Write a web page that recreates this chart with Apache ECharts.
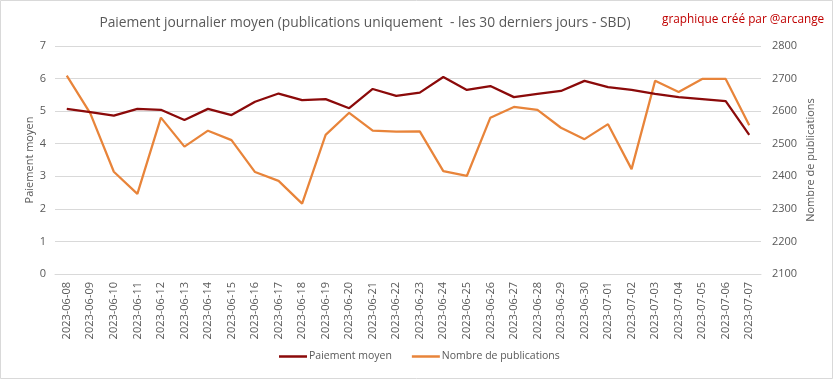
<!DOCTYPE html>
<html>
<head>
<meta charset="utf-8">
<script src="https://cdn.jsdelivr.net/npm/echarts@6/dist/echarts.min.js"></script>
<style>
html,body{margin:0;padding:0;background:#fff;}
#c{width:833px;height:379px;}
</style>
</head>
<body>
<div id="c"></div>
<script>
const categories = ["2023-06-08","2023-06-09","2023-06-10","2023-06-11","2023-06-12","2023-06-13","2023-06-14","2023-06-15","2023-06-16","2023-06-17","2023-06-18","2023-06-19","2023-06-20","2023-06-21","2023-06-22","2023-06-23","2023-06-24","2023-06-25","2023-06-26","2023-06-27","2023-06-28","2023-06-29","2023-06-30","2023-07-01","2023-07-02","2023-07-03","2023-07-04","2023-07-05","2023-07-06","2023-07-07"];
const paiementMoyen = [5.07,4.97,4.86,5.07,5.04,4.73,5.07,4.88,5.29,5.54,5.34,5.37,5.09,5.68,5.47,5.57,6.05,5.65,5.77,5.43,5.53,5.62,5.93,5.74,5.65,5.53,5.43,5.37,5.31,4.27];
const nombrePublications = [2709,2593,2414,2346,2580,2491,2540,2511,2413,2386,2316,2527,2595,2540,2537,2538,2416,2401,2580,2613,2604,2549,2514,2560,2422,2693,2659,2699,2699,2557];
const leftTicks = {min:0, max:7, interval:1};
const rightTicks = {min:2100, max:2800, interval:100};

const font = "'Open Sans', 'Noto Sans', sans-serif";
const chart = echarts.init(document.getElementById('c'), null, {renderer:'canvas'});
chart.setOption({
  animation:false,
  backgroundColor:'#fff',
  textStyle:{fontFamily:font},
  graphic:[
    {type:'rect', shape:{x:0.5,y:0.5,width:832,height:378}, style:{fill:'none', stroke:'#d9d9d9', lineWidth:1}, z:-1},
    {type:'text', left:662, top:14, style:{text:'graphique créé par @arcange', fill:'#c00000', font:"11.8px "+font}}
  ],
  title:{
    text:'Paiement journalier moyen (publications uniquement  - les 30 derniers jours - SBD)',
    left:360, top:11, textAlign:'center',
    textStyle:{fontFamily:font, fontSize:13.8, fontWeight:'normal', color:'#595959'}
  },
  legend:{
    bottom:12, left:274,
    icon:'rect', itemWidth:28, itemHeight:2.5, itemGap:20,
    textStyle:{fontFamily:font, fontSize:10.5, color:'#595959', padding:[0,0,0,-3]},
    data:['Paiement moyen','Nombre de publications']
  },
  grid:{left:55, right:72, top:46, bottom:105},
  xAxis:{
    type:'category', data:categories, boundaryGap:true,
    axisLine:{show:true, lineStyle:{color:'#d9d9d9'}},
    axisTick:{show:false},
    axisLabel:{rotate:90, interval:0, color:'#595959', fontSize:11, margin:8, fontFamily:font}
  },
  yAxis:[
    {type:'value', min:leftTicks.min, max:leftTicks.max, interval:leftTicks.interval,
     name:'Paiement moyen', nameLocation:'middle', nameGap:20, nameRotate:90, nameMoveOverlap:false,
     nameTextStyle:{color:'#595959', fontSize:11, fontFamily:font},
     axisLine:{show:false}, axisTick:{show:false},
     axisLabel:{color:'#595959', fontSize:11, margin:9},
     splitLine:{lineStyle:{color:'#d9d9d9', width:1}}},
    {type:'value', min:rightTicks.min, max:rightTicks.max, interval:rightTicks.interval,
     name:'Nombre de publications', nameLocation:'middle', nameGap:44, nameRotate:90, nameMoveOverlap:false,
     nameTextStyle:{color:'#595959', fontSize:11, fontFamily:font},
     axisLine:{show:false}, axisTick:{show:false},
     axisLabel:{color:'#595959', fontSize:11, margin:11, formatter:(v)=>String(v)},
     splitLine:{show:false}}
  ],
  series:[
    {name:'Paiement moyen', type:'line', yAxisIndex:0, data:paiementMoyen,
     symbol:'none', lineStyle:{color:'#8b0a0a', width:2.25}, itemStyle:{color:'#8b0a0a'}, z:3},
    {name:'Nombre de publications', type:'line', yAxisIndex:1, data:nombrePublications,
     symbol:'none', lineStyle:{color:'#e8843a', width:2.25}, itemStyle:{color:'#e8843a'}, z:2}
  ]
});
</script>
</body>
</html>
